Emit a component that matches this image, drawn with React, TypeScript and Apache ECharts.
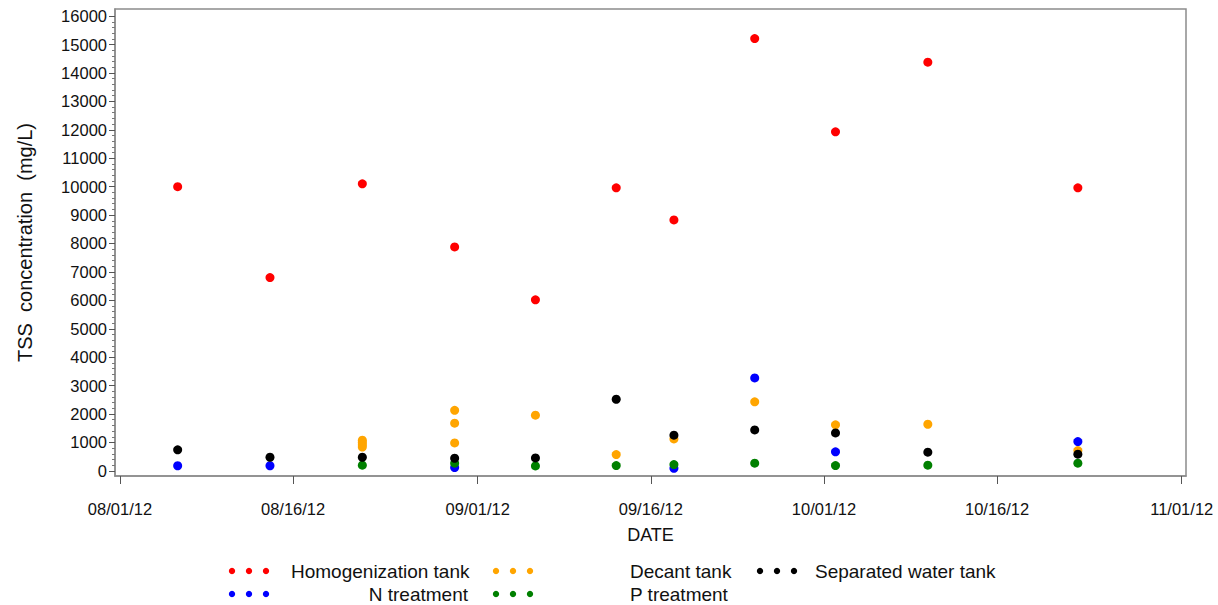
import React, { useEffect, useRef } from "react";
import * as echarts from "echarts";

// ---------- data ----------
const homogDates = ["2012-08-06", "2012-08-14", "2012-08-22", "2012-08-30", "2012-09-06", "2012-09-13", "2012-09-18", "2012-09-25", "2012-10-02", "2012-10-10", "2012-10-23"];
const homogValues = [10000, 6800, 10100, 7880, 6020, 9960, 8830, 15210, 11930, 14380, 9960];

const nTreatDates = ["2012-08-06", "2012-08-14", "2012-08-30", "2012-09-18", "2012-09-25", "2012-10-02", "2012-10-23"];
const nTreatValues = [180, 180, 115, 90, 3270, 670, 1030];

const decantDates = ["2012-08-22", "2012-08-22", "2012-08-22", "2012-08-22", "2012-08-30", "2012-08-30", "2012-08-30", "2012-09-06", "2012-09-13", "2012-09-18", "2012-09-25", "2012-10-02", "2012-10-10", "2012-10-23"];
const decantValues = [1080, 1000, 920, 840, 2130, 1680, 985, 1960, 575, 1125, 2430, 1620, 1640, 715];

const pTreatDates = ["2012-08-22", "2012-08-30", "2012-09-06", "2012-09-13", "2012-09-18", "2012-09-25", "2012-10-02", "2012-10-10", "2012-10-23"];
const pTreatValues = [200, 270, 176, 187, 222, 270, 187, 199, 270];

const sepDates = ["2012-08-06", "2012-08-14", "2012-08-22", "2012-08-30", "2012-09-06", "2012-09-13", "2012-09-18", "2012-09-25", "2012-10-02", "2012-10-10", "2012-10-23"];
const sepValues = [740, 480, 480, 445, 457, 2520, 1255, 1442, 1336, 657, 587];

const xTickDates = ["2012-08-01", "2012-08-16", "2012-09-01", "2012-09-16", "2012-10-01", "2012-10-16", "2012-11-01"];
const yTickValues = [0, 1000, 2000, 3000, 4000, 5000, 6000, 7000, 8000, 9000, 10000, 11000, 12000, 13000, 14000, 15000, 16000];

const seriesNames = ["Homogenization tank", "N treatment", "Decant tank", "P treatment", "Separated water tank"];
const seriesColors = ["#ff0000", "#0000ff", "#ffa500", "#008000", "#000000"];

// ---------- helpers ----------
const DAY = 86400000;
function parseDate(s: string): number {
  const [y, m, d] = s.split("-").map(Number);
  return new Date(y, m - 1, d).getTime();
}
function pad(n: number) {
  return n < 10 ? "0" + n : "" + n;
}
function fmtDate(v: number) {
  const d = new Date(v + DAY / 2);
  return pad(d.getMonth() + 1) + "/" + pad(d.getDate()) + "/" + pad(d.getFullYear() % 100);
}
function pairs(dates: string[], values: number[]) {
  return dates.map((d, i) => [parseDate(d), values[i]]);
}

const FONT = "'Liberation Sans', Arial, sans-serif";

export default function App() {
  const ref = useRef<HTMLDivElement>(null);

  useEffect(() => {
    if (!ref.current) return;
    const chart = echarts.init(ref.current, undefined, { renderer: "svg" });

    const xTicks = xTickDates.map(parseDate);
    const xMin = xTicks[0] - 0.43 * DAY;
    const xMax = xTicks[xTicks.length - 1] + 0.37 * DAY;
    const yMin = -180;
    const yMax = 16250;
    const minorTicks: number[] = [];
    for (let v = 0; v <= 16000; v += 200) if (v % 1000 !== 0) minorTicks.push(v);

    const allData = [
      pairs(homogDates, homogValues),
      pairs(nTreatDates, nTreatValues),
      pairs(decantDates, decantValues),
      pairs(pTreatDates, pTreatValues),
      pairs(sepDates, sepValues),
    ];

    // legend layout (SAS style: three dots + label)
    const legendItems = [
      { dotX: 232, y: 571, textX: 291, align: "left" },
      { dotX: 232, y: 594, textX: 468, align: "right" },
      { dotX: 496, y: 571, textX: 630, align: "left" },
      { dotX: 496, y: 594, textX: 630, align: "left" },
      { dotX: 760, y: 571, textX: 815, align: "left" },
    ];
    const graphics: any[] = [];
    legendItems.forEach((it, i) => {
      for (let k = 0; k < 3; k++) {
        graphics.push({
          type: "circle",
          shape: { cx: it.dotX + k * 17, cy: it.y, r: 3.2 },
          style: { fill: seriesColors[i] },
          silent: true,
        });
      }
      graphics.push({
        type: "text",
        x: it.textX,
        y: it.y,
        style: {
          text: seriesNames[i],
          fill: "#111",
          font: `19px ${FONT}`,
          align: it.align,
          verticalAlign: "middle",
        },
        silent: true,
      });
    });

    chart.setOption({
      animation: false,
      backgroundColor: "#ffffff",
      textStyle: { fontFamily: FONT },
      grid: {
        left: 115,
        top: 9,
        right: 32,
        bottom: 129,
        show: true,
        borderColor: "#8c8c8c",
        borderWidth: 1.5,
        containLabel: false,
      },
      xAxis: {
        type: "value",
        min: xMin,
        max: xMax,
        scale: true,
        name: "DATE",
        nameLocation: "middle",
        nameGap: 50,
        nameTextStyle: { fontSize: 18, color: "#111", fontFamily: FONT },
        axisLine: { show: true, onZero: false, lineStyle: { color: "#8c8c8c", width: 1.5 } },
        axisTick: { show: true, customValues: xTicks, length: 8, lineStyle: { color: "#555", width: 1 } },
        axisLabel: {
          customValues: xTicks,
          formatter: (v: number) => fmtDate(v),
          fontSize: 16.5,
          color: "#111",
          margin: 24,
          fontFamily: FONT,
          hideOverlap: false,
          showMinLabel: true,
          showMaxLabel: true,
        },
        splitLine: { show: false },
      },
      yAxis: [
        {
          type: "value",
          min: yMin,
          max: yMax,
          name: "TSS  concentration  (mg/L)",
          nameLocation: "middle",
          nameGap: 80,
          nameTextStyle: { fontSize: 20, color: "#111", fontFamily: FONT },
          axisLine: { show: true, onZero: false, lineStyle: { color: "#8c8c8c", width: 1.5 } },
          axisTick: { show: true, customValues: yTickValues, length: 6, lineStyle: { color: "#555", width: 1 } },
          axisLabel: {
            customValues: yTickValues,
            formatter: (v: number) => String(Math.round(v)),
            fontSize: 16.5,
            color: "#111",
            margin: 8,
            fontFamily: FONT,
          },
          splitLine: { show: false },
        },
        {
          type: "value",
          min: yMin,
          max: yMax,
          position: "left",
          axisLine: { show: false, onZero: false },
          axisTick: { show: true, customValues: minorTicks, length: 3, lineStyle: { color: "#777", width: 1 } },
          axisLabel: { show: false },
          splitLine: { show: false },
        },
      ],
      series: allData.map((data, i) => ({
        name: seriesNames[i],
        type: "scatter",
        yAxisIndex: 0,
        data,
        symbol: "circle",
        symbolSize: 9,
        itemStyle: { color: seriesColors[i], opacity: 1 },
        z: 2 + i,
      })),
      graphic: graphics,
    });

    return () => chart.dispose();
  }, []);

  return (
    <div
      ref={ref}
      style={{ position: "absolute", left: 0, top: 0, width: 1218, height: 605, background: "#fff" }}
    />
  );
}
